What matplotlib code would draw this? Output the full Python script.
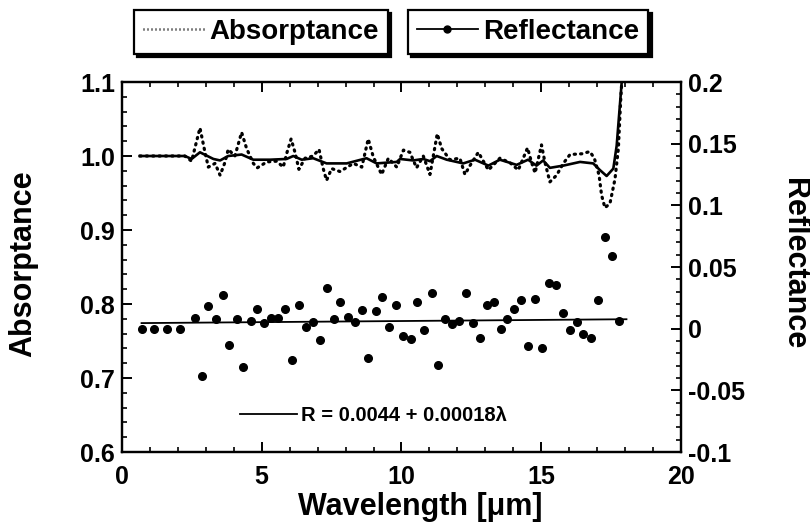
import matplotlib

matplotlib.use("Agg")
import matplotlib.pyplot as plt
from matplotlib.lines import Line2D
from matplotlib.ticker import MultipleLocator

plt.rcParams.update({
    "font.family": ["Liberation Sans", "DejaVu Sans"],
    "font.weight": "bold",
    "font.size": 18,
    "axes.linewidth": 1.6,
    "xtick.direction": "in",
    "ytick.direction": "in",
    "xtick.major.size": 7,
    "ytick.major.size": 7,
    "xtick.minor.size": 3.5,
    "ytick.minor.size": 3.5,
    "xtick.major.width": 1.4,
    "ytick.major.width": 1.4,
    "xtick.minor.width": 1.2,
    "ytick.minor.width": 1.2,
})

# absorptance spectrum (dotted)
abs_lam = [0.64, 1.5, 2.25, 2.49, 2.79, 2.97, 3.09, 3.33, 3.51, 3.69, 3.8,
           4.04, 4.28, 4.46, 4.7, 4.84, 5.18, 5.53, 5.77, 5.89, 6.05, 6.19,
           6.33, 6.55, 6.84, 7.05, 7.2, 7.32, 7.5, 7.8, 8.28, 8.58, 8.81,
           8.99, 9.29, 9.53, 9.83, 10.07, 10.3, 10.54, 10.78, 11.02, 11.28,
           11.44, 11.73, 12.09, 12.27, 12.45, 12.75, 13.11, 13.52, 13.88,
           14.18, 14.51, 14.65, 14.78, 15.01, 15.13, 15.31, 15.55, 15.79,
           16.03, 16.45, 16.74, 16.9, 17.07, 17.16, 17.28, 17.46, 17.64,
           17.76, 17.84, 17.91]
abs_val = [1.0, 1.0, 1.0, 0.993, 1.038, 1.005, 0.985, 0.99, 0.974, 0.992,
           1.009, 1.0, 1.032, 1.01, 0.99, 0.984, 0.992, 0.993, 0.985, 1.003,
           1.023, 1.005, 0.982, 0.997, 1.0, 1.009, 0.983, 0.967, 0.983, 0.979,
           0.99, 0.985, 1.023, 0.999, 0.975, 0.997, 0.985, 1.008, 1.005,
           0.984, 1.0, 0.975, 1.03, 1.01, 0.995, 0.997, 0.975, 0.987, 1.005,
           0.981, 0.997, 0.991, 0.981, 1.011, 0.992, 0.977, 1.015, 0.992,
           0.965, 0.974, 0.99, 1.002, 1.003, 1.006, 0.997, 0.974, 0.947,
           0.93, 0.936, 0.969, 1.01, 1.073, 1.118]

# smoothed absorptance (solid)
smooth_lam = [0.64, 2.25, 2.49, 2.79, 3.27, 3.51, 3.8, 4.28, 4.7, 5.3, 5.89,
              6.13, 6.43, 6.84, 7.32, 8.04, 8.75, 9.11, 9.83, 9.95, 10.42,
              10.78, 11.02, 11.26, 11.62, 12.21, 12.63, 13.11, 13.52, 14.12,
              14.53, 14.83, 15.07, 15.31, 15.79, 16.39, 16.86, 17.1, 17.34,
              17.58, 17.7, 17.88, 17.91]
smooth_val = [1.0, 1.0, 0.996, 1.005, 0.996, 0.994, 1.0, 1.002, 0.995, 0.995,
              0.996, 1.0, 0.995, 0.997, 0.99, 0.99, 0.997, 0.99, 0.992, 0.996,
              0.994, 0.996, 0.993, 1.0, 0.995, 0.99, 0.995, 0.987, 0.995,
              0.988, 0.995, 0.987, 0.994, 0.984, 0.987, 0.992, 0.99, 0.981,
              0.973, 0.983, 1.014, 1.1, 1.118]

# reflectance measurements
refl_lam = [0.73, 1.15, 1.6, 2.07, 2.61, 2.85, 3.09, 3.35, 3.6, 3.84, 4.1,
            4.34, 4.6, 4.84, 5.09, 5.32, 5.59, 5.83, 6.09, 6.34, 6.58, 6.82,
            7.08, 7.32, 7.57, 7.81, 8.07, 8.34, 8.57, 8.81, 9.08, 9.31, 9.56,
            9.8, 10.04, 10.33, 10.57, 10.8, 11.08, 11.32, 11.56, 11.82,
            12.07, 12.31, 12.55, 12.81, 13.05, 13.31, 13.55, 13.79, 14.04,
            14.28, 14.54, 14.78, 15.04, 15.28, 15.52, 15.77, 16.03, 16.29,
            16.5, 16.78, 17.02, 17.28, 17.52, 17.78]
refl_val = [0.0, 0.0, 0.0, 0.0, 0.009, -0.038, 0.018, 0.0075, 0.027, -0.013,
            0.008, -0.031, 0.0064, 0.016, 0.0048, 0.009, 0.009, 0.016,
            -0.025, 0.019, 0.001, 0.0056, -0.009, 0.033, 0.008, 0.022,
            0.0094, 0.0056, 0.0154, -0.0236, 0.0143, 0.026, 0.001, 0.019,
            -0.0057, -0.0087, 0.0213, -0.001, 0.029, -0.0298, 0.008, 0.0037,
            0.006, 0.029, 0.0043, -0.0079, 0.019, 0.0216, -0.0003, 0.0075,
            0.0157, 0.023, -0.0138, 0.0243, -0.0157, 0.0367, 0.0354, 0.0124,
            -0.001, 0.0056, -0.0046, -0.0076, 0.0235, 0.074, 0.059, 0.006]

# linear fit R = a + b * lambda
fit_a = 0.0044
fit_b = 0.00018
fit_lam = [0.7, 18.05]
fit_val = [fit_a + fit_b * x for x in fit_lam]

fig = plt.figure(figsize=(8.1, 5.27), dpi=100)
ax = fig.add_axes([0.1506, 0.1423, 0.6901, 0.7021])
ax2 = ax.twinx()

ax.plot(abs_lam, abs_val, color="black", lw=2.3,
        linestyle=(0, (0.4, 1.6)), dash_capstyle="round")
ax.plot(smooth_lam, smooth_val, color="black", lw=1.9)

ax2.plot(refl_lam, refl_val, "o", color="black", ms=5.5)
fit_line, = ax2.plot(fit_lam, fit_val, color="black", lw=1.3)

ax.set_xlim(0, 20)
ax.set_ylim(0.6, 1.1)
ax2.set_ylim(-0.1, 0.2)

ax.xaxis.set_major_locator(MultipleLocator(5))
ax.xaxis.set_minor_locator(MultipleLocator(1))
ax.yaxis.set_minor_locator(MultipleLocator(0.02))
ax2.yaxis.set_minor_locator(MultipleLocator(0.01))

ax.tick_params(which="both", top=True, right=False, labelsize=18, pad=5)
ax.tick_params(axis="x", pad=9)
ax2.tick_params(which="both", labelsize=18, pad=5)
ax.set_yticks([0.6, 0.7, 0.8, 0.9, 1.0, 1.1])
ax.set_yticklabels(["0.6", "0.7", "0.8", "0.9", "1.0", "1.1"])
ax2.set_yticks([-0.1, -0.05, 0, 0.05, 0.1, 0.15, 0.2])
ax2.set_yticklabels(["-0.1", "-0.05", "0", "0.05", "0.1", "0.15", "0.2"])

ax.set_xlabel("Wavelength [μm]", fontsize=22, fontweight="bold", va="center")
ax.set_ylabel("Absorptance", fontsize=22, fontweight="bold", va="center")
ax2.set_ylabel("Reflectance", fontsize=22, fontweight="bold", rotation=-90)
ax.xaxis.set_label_coords(0.533, -0.149)
ax.yaxis.set_label_coords(-0.177, 0.51)
ax2.yaxis.set_label_coords(1.202, 0.51)
ax2.yaxis.label.set_va("center")

ax2.legend([fit_line], ["R = 0.0044 + 0.00018λ"], loc="lower center",
           bbox_to_anchor=(0.45, 0.025), frameon=False, fontsize=14.5,
           handlelength=2.8, handletextpad=0.2)

abs_handle = Line2D([], [], color="black", lw=1.8, linestyle=(0, (0.4, 1.2)))
refl_handle = Line2D([], [], color="black", lw=1.3, marker="o", ms=5)
box_style = dict(frameon=True, fancybox=False, edgecolor="black",
                 fontsize=20, handlelength=2.2, handletextpad=0.2,
                 borderpad=0.32, borderaxespad=0, numpoints=1, framealpha=1,
                 shadow={"color": "black", "alpha": 1, "ox": 2.5, "oy": -2.5})
leg1 = fig.legend([abs_handle], ["Absorptance"], loc="center",
                  bbox_to_anchor=(0.322, 0.94), **box_style)
leg2 = fig.legend([refl_handle], ["Reflectance"], loc="center",
                  bbox_to_anchor=(0.652, 0.94), **box_style)
for leg in (leg1, leg2):
    leg.get_frame().set_linewidth(1.6)

fig.savefig("out.png", dpi=100)
